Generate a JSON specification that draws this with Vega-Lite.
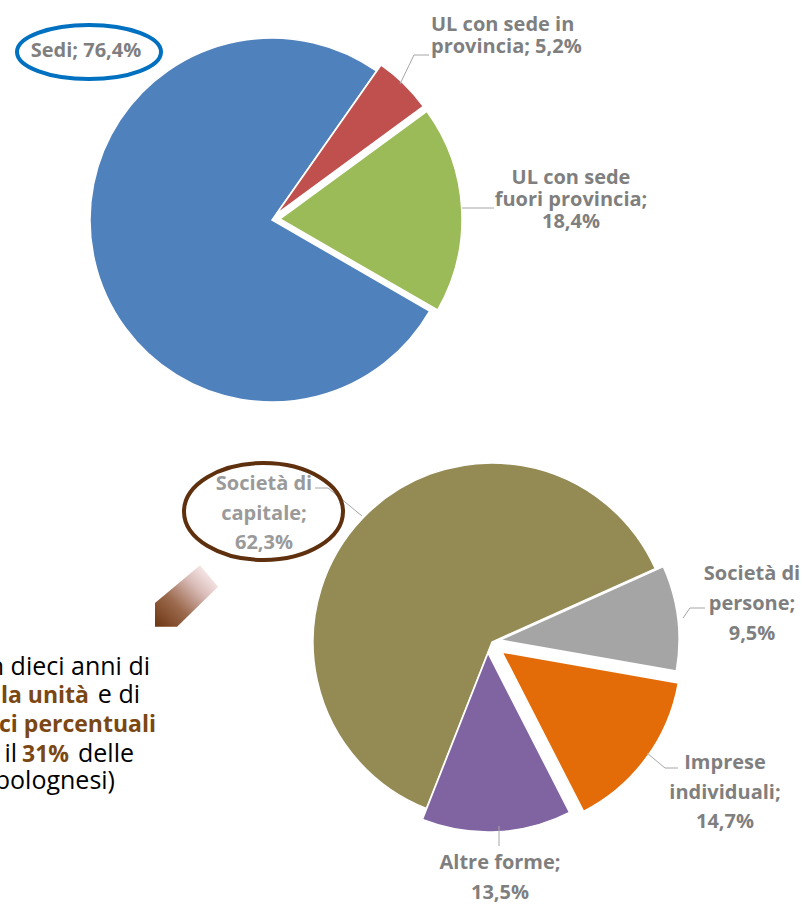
{
  "$schema": "https://vega.github.io/schema/vega-lite/v6.json",
  "width": 802,
  "height": 904,
  "padding": 0,
  "autosize": {"type": "none"},
  "background": "#ffffff",
  "config": {"view": {"stroke": null}},
  "datasets": {
    "slices": [
      {"pie": "A", "cat": "Sedi", "pct": 76.4, "ord": 1, "label": "Sedi; 76,4%"},
      {"pie": "A", "cat": "UL in provincia", "pct": 5.2, "ord": 2, "label": "UL con sede in\nprovincia; 5,2%"},
      {"pie": "A", "cat": "UL fuori provincia", "pct": 18.4, "ord": 3, "label": "UL con sede\nfuori provincia;\n18,4%"},
      {"pie": "B", "cat": "Società di capitale", "pct": 62.3, "ord": 1, "label": "Società di\ncapitale;\n62,3%"},
      {"pie": "B", "cat": "Società di persone", "pct": 9.5, "ord": 2, "label": "Società di\npersone;\n9,5%"},
      {"pie": "B", "cat": "Imprese individuali", "pct": 14.7, "ord": 3, "label": "Imprese\nindividuali;\n14,7%"},
      {"pie": "B", "cat": "Altre forme", "pct": 13.5, "ord": 4, "label": "Altre forme;\n13,5%"}
    ]
  },
  "resolve": {"scale": {"theta": "independent"}},
  "layer": [
    {
      "data": {"name": "slices"},
      "transform": [
        {"stack": "pct", "groupby": ["pie"], "sort": [{"field": "ord", "order": "ascending"}], "as": ["t0", "t1"]},
        {"filter": "datum.cat === 'Sedi'"}
      ],
      "mark": {"type": "arc", "outerRadius": 182, "stroke": "#ffffff", "strokeWidth": 1.5},
      "encoding": {
        "theta": {"field": "t0", "type": "quantitative", "scale": {"domain": [0, 100], "range": [2.0944, 8.3776]}},
        "theta2": {"field": "t1"},
        "color": {"field": "cat", "type": "nominal", "legend": null, "scale": {"domain": ["Sedi", "UL in provincia", "UL fuori provincia", "Società di capitale", "Società di persone", "Imprese individuali", "Altre forme"], "range": ["#4f81bd", "#c0504d", "#9bbb59", "#948a54", "#a5a5a5", "#e36c09", "#8064a2"]}},
        "x": {"datum": 272, "type": "quantitative", "scale": {"domain": [0, 802], "nice": false, "zero": false}, "axis": null},
        "y": {"datum": 220, "type": "quantitative", "scale": {"domain": [0, 904], "nice": false, "zero": false, "reverse": true}, "axis": null}
      }
    },
    {
      "data": {"name": "slices"},
      "transform": [
        {"stack": "pct", "groupby": ["pie"], "sort": [{"field": "ord", "order": "ascending"}], "as": ["t0", "t1"]},
        {"filter": "datum.cat === 'UL in provincia'"}
      ],
      "mark": {"type": "arc", "outerRadius": 182, "stroke": "#ffffff", "strokeWidth": 1.5},
      "encoding": {
        "theta": {"field": "t0", "type": "quantitative", "scale": {"domain": [0, 100], "range": [2.0944, 8.3776]}},
        "theta2": {"field": "t1"},
        "color": {"field": "cat", "type": "nominal", "legend": null},
        "x": {"datum": 276.5, "type": "quantitative"},
        "y": {"datum": 214, "type": "quantitative"}
      }
    },
    {
      "data": {"name": "slices"},
      "transform": [
        {"stack": "pct", "groupby": ["pie"], "sort": [{"field": "ord", "order": "ascending"}], "as": ["t0", "t1"]},
        {"filter": "datum.cat === 'UL fuori provincia'"}
      ],
      "mark": {"type": "arc", "outerRadius": 182, "stroke": "#ffffff", "strokeWidth": 1.5},
      "encoding": {
        "theta": {"field": "t0", "type": "quantitative", "scale": {"domain": [0, 100], "range": [2.0944, 8.3776]}},
        "theta2": {"field": "t1"},
        "color": {"field": "cat", "type": "nominal", "legend": null},
        "x": {"datum": 280, "type": "quantitative"},
        "y": {"datum": 219, "type": "quantitative"}
      }
    },
    {
      "data": {"name": "slices"},
      "transform": [
        {"stack": "pct", "groupby": ["pie"], "sort": [{"field": "ord", "order": "ascending"}], "as": ["t0", "t1"]},
        {"filter": "datum.cat === 'Società di capitale'"}
      ],
      "mark": {"type": "arc", "outerRadius": 179, "stroke": "#ffffff", "strokeWidth": 1.5},
      "encoding": {
        "theta": {"field": "t0", "type": "quantitative", "scale": {"domain": [0, 100], "range": [3.5168, 9.8000]}},
        "theta2": {"field": "t1"},
        "color": {"field": "cat", "type": "nominal", "legend": null},
        "x": {"datum": 492, "type": "quantitative"},
        "y": {"datum": 642, "type": "quantitative"}
      }
    },
    {
      "data": {"name": "slices"},
      "transform": [
        {"stack": "pct", "groupby": ["pie"], "sort": [{"field": "ord", "order": "ascending"}], "as": ["t0", "t1"]},
        {"filter": "datum.cat === 'Società di persone'"}
      ],
      "mark": {"type": "arc", "outerRadius": 179, "stroke": "#ffffff", "strokeWidth": 1.5},
      "encoding": {
        "theta": {"field": "t0", "type": "quantitative", "scale": {"domain": [0, 100], "range": [3.5168, 9.8000]}},
        "theta2": {"field": "t1"},
        "color": {"field": "cat", "type": "nominal", "legend": null},
        "x": {"datum": 500, "type": "quantitative"},
        "y": {"datum": 640, "type": "quantitative"}
      }
    },
    {
      "data": {"name": "slices"},
      "transform": [
        {"stack": "pct", "groupby": ["pie"], "sort": [{"field": "ord", "order": "ascending"}], "as": ["t0", "t1"]},
        {"filter": "datum.cat === 'Imprese individuali'"}
      ],
      "mark": {"type": "arc", "outerRadius": 179, "stroke": "#ffffff", "strokeWidth": 1.5},
      "encoding": {
        "theta": {"field": "t0", "type": "quantitative", "scale": {"domain": [0, 100], "range": [3.5168, 9.8000]}},
        "theta2": {"field": "t1"},
        "color": {"field": "cat", "type": "nominal", "legend": null},
        "x": {"datum": 502, "type": "quantitative"},
        "y": {"datum": 652, "type": "quantitative"}
      }
    },
    {
      "data": {"name": "slices"},
      "transform": [
        {"stack": "pct", "groupby": ["pie"], "sort": [{"field": "ord", "order": "ascending"}], "as": ["t0", "t1"]},
        {"filter": "datum.cat === 'Altre forme'"}
      ],
      "mark": {"type": "arc", "outerRadius": 179, "stroke": "#ffffff", "strokeWidth": 1.5},
      "encoding": {
        "theta": {"field": "t0", "type": "quantitative", "scale": {"domain": [0, 100], "range": [3.5168, 9.8000]}},
        "theta2": {"field": "t1"},
        "color": {"field": "cat", "type": "nominal", "legend": null},
        "x": {"datum": 488, "type": "quantitative"},
        "y": {"datum": 653, "type": "quantitative"}
      }
    },
    {
      "data": {"values": [{}]},
      "mark": {"type": "rule", "color": "#a6a6a6", "strokeWidth": 1},
      "encoding": {"x": {"datum": 400, "type": "quantitative"}, "y": {"datum": 84, "type": "quantitative"}, "x2": {"datum": 414}, "y2": {"datum": 55}}
    },
    {
      "data": {"values": [{}]},
      "mark": {"type": "rule", "color": "#a6a6a6", "strokeWidth": 1},
      "encoding": {"x": {"datum": 414, "type": "quantitative"}, "y": {"datum": 55, "type": "quantitative"}, "x2": {"datum": 429}, "y2": {"datum": 55}}
    },
    {
      "data": {"values": [{}]},
      "mark": {"type": "rule", "color": "#a6a6a6", "strokeWidth": 1},
      "encoding": {"x": {"datum": 462, "type": "quantitative"}, "y": {"datum": 208, "type": "quantitative"}, "x2": {"datum": 494}, "y2": {"datum": 208}}
    },
    {
      "data": {"values": [{}]},
      "mark": {"type": "rule", "color": "#a6a6a6", "strokeWidth": 1},
      "encoding": {"x": {"datum": 315, "type": "quantitative"}, "y": {"datum": 488, "type": "quantitative"}, "x2": {"datum": 328}, "y2": {"datum": 488}}
    },
    {
      "data": {"values": [{}]},
      "mark": {"type": "rule", "color": "#a6a6a6", "strokeWidth": 1},
      "encoding": {"x": {"datum": 328, "type": "quantitative"}, "y": {"datum": 488, "type": "quantitative"}, "x2": {"datum": 362}, "y2": {"datum": 516}}
    },
    {
      "data": {"values": [{}]},
      "mark": {"type": "rule", "color": "#a6a6a6", "strokeWidth": 1},
      "encoding": {"x": {"datum": 683, "type": "quantitative"}, "y": {"datum": 618, "type": "quantitative"}, "x2": {"datum": 690}, "y2": {"datum": 608}}
    },
    {
      "data": {"values": [{}]},
      "mark": {"type": "rule", "color": "#a6a6a6", "strokeWidth": 1},
      "encoding": {"x": {"datum": 690, "type": "quantitative"}, "y": {"datum": 608, "type": "quantitative"}, "x2": {"datum": 705}, "y2": {"datum": 608}}
    },
    {
      "data": {"values": [{}]},
      "mark": {"type": "rule", "color": "#a6a6a6", "strokeWidth": 1},
      "encoding": {"x": {"datum": 647, "type": "quantitative"}, "y": {"datum": 753, "type": "quantitative"}, "x2": {"datum": 665}, "y2": {"datum": 768}}
    },
    {
      "data": {"values": [{}]},
      "mark": {"type": "rule", "color": "#a6a6a6", "strokeWidth": 1},
      "encoding": {"x": {"datum": 665, "type": "quantitative"}, "y": {"datum": 768, "type": "quantitative"}, "x2": {"datum": 678}, "y2": {"datum": 768}}
    },
    {
      "data": {"values": [{}]},
      "mark": {"type": "rule", "color": "#a6a6a6", "strokeWidth": 1},
      "encoding": {"x": {"datum": 499, "type": "quantitative"}, "y": {"datum": 826, "type": "quantitative"}, "x2": {"datum": 499}, "y2": {"datum": 846}}
    },
    {
      "data": {"name": "slices"},
      "transform": [{"filter": "datum.cat === 'Sedi'"}],
      "mark": {"type": "text", "font": "Open Sans", "fontWeight": "bold", "fontSize": 20, "color": "#7f7f7f", "align": "center", "baseline": "middle", "lineBreak": "\n"},
      "encoding": {"text": {"field": "label", "type": "nominal"}, "x": {"datum": 86, "type": "quantitative"}, "y": {"datum": 51, "type": "quantitative"}}
    },
    {
      "data": {"name": "slices"},
      "transform": [{"filter": "datum.cat === 'UL in provincia'"}],
      "mark": {"type": "text", "font": "Open Sans", "fontWeight": "bold", "fontSize": 20, "lineHeight": 21.5, "color": "#7f7f7f", "align": "left", "baseline": "middle", "lineBreak": "\n"},
      "encoding": {"text": {"field": "label", "type": "nominal"}, "x": {"datum": 431, "type": "quantitative"}, "y": {"datum": 25, "type": "quantitative"}}
    },
    {
      "data": {"name": "slices"},
      "transform": [{"filter": "datum.cat === 'UL fuori provincia'"}],
      "mark": {"type": "text", "font": "Open Sans", "fontWeight": "bold", "fontSize": 20, "lineHeight": 22, "color": "#7f7f7f", "align": "center", "baseline": "middle", "lineBreak": "\n"},
      "encoding": {"text": {"field": "label", "type": "nominal"}, "x": {"datum": 571, "type": "quantitative"}, "y": {"datum": 178, "type": "quantitative"}}
    },
    {
      "data": {"name": "slices"},
      "transform": [{"filter": "datum.cat === 'Società di capitale'"}],
      "mark": {"type": "text", "font": "Open Sans", "fontWeight": "bold", "fontSize": 20, "lineHeight": 29.5, "color": "#9a9a9a", "align": "center", "baseline": "middle", "lineBreak": "\n"},
      "encoding": {"text": {"field": "label", "type": "nominal"}, "x": {"datum": 264, "type": "quantitative"}, "y": {"datum": 484, "type": "quantitative"}}
    },
    {
      "data": {"name": "slices"},
      "transform": [{"filter": "datum.cat === 'Società di persone'"}],
      "mark": {"type": "text", "font": "Open Sans", "fontWeight": "bold", "fontSize": 20, "lineHeight": 30, "color": "#7f7f7f", "align": "center", "baseline": "middle", "lineBreak": "\n"},
      "encoding": {"text": {"field": "label", "type": "nominal"}, "x": {"datum": 752, "type": "quantitative"}, "y": {"datum": 574, "type": "quantitative"}}
    },
    {
      "data": {"name": "slices"},
      "transform": [{"filter": "datum.cat === 'Imprese individuali'"}],
      "mark": {"type": "text", "font": "Open Sans", "fontWeight": "bold", "fontSize": 20, "lineHeight": 29.5, "color": "#7f7f7f", "align": "center", "baseline": "middle", "lineBreak": "\n"},
      "encoding": {"text": {"field": "label", "type": "nominal"}, "x": {"datum": 725, "type": "quantitative"}, "y": {"datum": 763, "type": "quantitative"}}
    },
    {
      "data": {"name": "slices"},
      "transform": [{"filter": "datum.cat === 'Altre forme'"}],
      "mark": {"type": "text", "font": "Open Sans", "fontWeight": "bold", "fontSize": 20, "lineHeight": 29.5, "color": "#7f7f7f", "align": "center", "baseline": "middle", "lineBreak": "\n"},
      "encoding": {"text": {"field": "label", "type": "nominal"}, "x": {"datum": 500, "type": "quantitative"}, "y": {"datum": 863, "type": "quantitative"}}
    },
    {
      "data": {"values": [{}]},
      "mark": {"type": "point", "shape": "M 1 0 C 1 0.2071 0.5523 0.375 0 0.375 C -0.5523 0.375 -1 0.2071 -1 0 C -1 -0.2071 -0.5523 -0.375 0 -0.375 C 0.5523 -0.375 1 -0.2071 1 0 Z", "size": 20736, "filled": false, "color": "#0070c0", "strokeWidth": 4, "opacity": 1},
      "encoding": {"x": {"datum": 89, "type": "quantitative"}, "y": {"datum": 52, "type": "quantitative"}}
    },
    {
      "data": {"values": [{}]},
      "mark": {"type": "point", "shape": "M 1 0 C 1 0.3369 0.5523 0.61 0 0.61 C -0.5523 0.61 -1 0.3369 -1 0 C -1 -0.3369 -0.5523 -0.61 0 -0.61 C 0.5523 -0.61 1 -0.3369 1 0 Z", "size": 25281, "filled": false, "color": "#5e300e", "strokeWidth": 4, "opacity": 1},
      "encoding": {"x": {"datum": 263.5, "type": "quantitative"}, "y": {"datum": 511.5, "type": "quantitative"}}
    },
    {
      "data": {"values": [{}]},
      "mark": {"type": "point", "shape": "M -1 0.22 L 0.43 -0.98 L 1 -0.29 L -0.3 0.98 L -1 0.98 Z", "size": 3969, "filled": true, "opacity": 1, "strokeWidth": 0,
        "fill": {"gradient": "linear", "x1": 0, "y1": 1, "x2": 1, "y2": 0, "stops": [
          {"offset": 0, "color": "#6b3510"},
          {"offset": 0.35, "color": "#9c6a4e"},
          {"offset": 0.65, "color": "#d9bcb8"},
          {"offset": 0.85, "color": "#f4e4e4"},
          {"offset": 1, "color": "#ffffff"}
        ]}},
      "encoding": {"x": {"datum": 186.5, "type": "quantitative"}, "y": {"datum": 596, "type": "quantitative"}}
    },
    {
      "data": {"values": [{"t": "n dieci anni di"}]},
      "mark": {"type": "text", "font": "Open Sans", "fontSize": 25, "color": "#000000", "align": "right", "baseline": "alphabetic"},
      "encoding": {"text": {"field": "t", "type": "nominal"}, "x": {"datum": 150, "type": "quantitative"}, "y": {"datum": 675, "type": "quantitative"}}
    },
    {
      "data": {"values": [{"t": "la unità"}]},
      "mark": {"type": "text", "font": "Open Sans", "fontWeight": "bold", "fontSize": 23, "color": "#7b4712", "align": "right", "baseline": "alphabetic"},
      "encoding": {"text": {"field": "t", "type": "nominal"}, "x": {"datum": 89, "type": "quantitative"}, "y": {"datum": 703, "type": "quantitative"}}
    },
    {
      "data": {"values": [{"t": "e di"}]},
      "mark": {"type": "text", "font": "Open Sans", "fontSize": 25, "color": "#000000", "align": "right", "baseline": "alphabetic"},
      "encoding": {"text": {"field": "t", "type": "nominal"}, "x": {"datum": 140, "type": "quantitative"}, "y": {"datum": 703, "type": "quantitative"}}
    },
    {
      "data": {"values": [{"t": "ci percentuali"}]},
      "mark": {"type": "text", "font": "Open Sans", "fontWeight": "bold", "fontSize": 23, "color": "#7b4712", "align": "right", "baseline": "alphabetic"},
      "encoding": {"text": {"field": "t", "type": "nominal"}, "x": {"datum": 156, "type": "quantitative"}, "y": {"datum": 732, "type": "quantitative"}}
    },
    {
      "data": {"values": [{"t": "il"}]},
      "mark": {"type": "text", "font": "Open Sans", "fontSize": 25, "color": "#000000", "align": "right", "baseline": "alphabetic"},
      "encoding": {"text": {"field": "t", "type": "nominal"}, "x": {"datum": 17, "type": "quantitative"}, "y": {"datum": 762, "type": "quantitative"}}
    },
    {
      "data": {"values": [{"t": "31%"}]},
      "mark": {"type": "text", "font": "Open Sans", "fontWeight": "bold", "fontSize": 23, "color": "#7b4712", "align": "left", "baseline": "alphabetic"},
      "encoding": {"text": {"field": "t", "type": "nominal"}, "x": {"datum": 22, "type": "quantitative"}, "y": {"datum": 762, "type": "quantitative"}}
    },
    {
      "data": {"values": [{"t": "delle"}]},
      "mark": {"type": "text", "font": "Open Sans", "fontSize": 25, "color": "#000000", "align": "right", "baseline": "alphabetic"},
      "encoding": {"text": {"field": "t", "type": "nominal"}, "x": {"datum": 134, "type": "quantitative"}, "y": {"datum": 762, "type": "quantitative"}}
    },
    {
      "data": {"values": [{"t": "bolognesi)"}]},
      "mark": {"type": "text", "font": "Open Sans", "fontSize": 25, "color": "#000000", "align": "right", "baseline": "alphabetic"},
      "encoding": {"text": {"field": "t", "type": "nominal"}, "x": {"datum": 115, "type": "quantitative"}, "y": {"datum": 789, "type": "quantitative"}}
    }
  ]
}
